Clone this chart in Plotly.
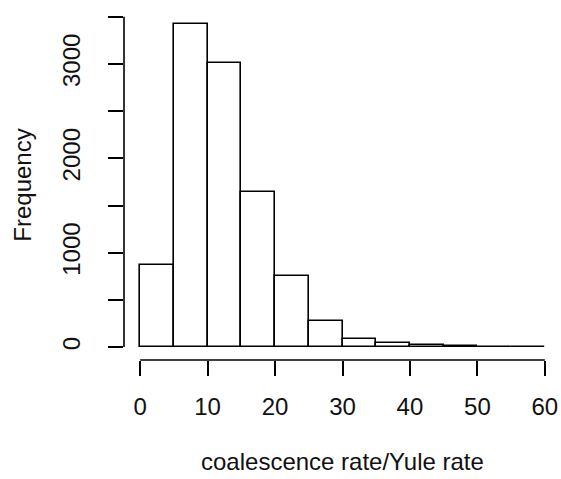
import plotly.graph_objects as go

# histogram of coalescence rate / Yule rate, bins of width 5
bin_edges = [0, 5, 10, 15, 20, 25, 30, 35, 40, 45, 50, 55, 60]
counts = [869, 3424, 3010, 1638, 748, 279, 90, 40, 17, 8, 4, 2]

x_ticks = [0, 10, 20, 30, 40, 50, 60]
y_ticks = [0, 500, 1000, 1500, 2000, 2500, 3000, 3500]
y_labels = ["0", "", "1000", "", "2000", "", "3000", ""]

centers = [(a + b) / 2 for a, b in zip(bin_edges[:-1], bin_edges[1:])]
widths = [b - a for a, b in zip(bin_edges[:-1], bin_edges[1:])]

FONT = "Liberation Sans, Arial, sans-serif"
FS = 24

fig = go.Figure(go.Bar(
    x=centers, y=counts, width=widths,
    marker=dict(color="white", line=dict(color="black", width=1.6)),
    hoverinfo="skip",
))

# R-style extended ranges (4% padding)
xr = bin_edges[-1] - bin_edges[0]
ymax = max(counts)
fig.update_xaxes(range=[bin_edges[0] - 0.04 * xr, bin_edges[-1] + 0.04 * xr],
                 tickvals=x_ticks, ticks="outside", ticklen=15, tickwidth=1.6,
                 tickcolor="black", showline=False, showgrid=False, zeroline=False,
                 automargin=False, ticklabelstandoff=10,
                 tickfont=dict(family=FONT, size=FS, color="#111"))
fig.update_yaxes(range=[-0.04 * ymax, 1.04 * ymax],
                 tickvals=y_ticks, ticktext=y_labels, tickangle=-90,
                 ticks="outside", ticklen=15, tickwidth=1.6, tickcolor="black",
                 showline=False, showgrid=False, zeroline=False,
                 automargin=False, ticklabelstandoff=18,
                 tickfont=dict(family=FONT, size=FS, color="#111"))

# detached axis lines spanning only the tick range
fig.add_shape(type="line", xref="x", yref="paper", x0=x_ticks[0], x1=x_ticks[-1],
              y0=0, y1=0, line=dict(color="black", width=1.6))
fig.add_shape(type="line", xref="paper", yref="y", x0=0, x1=0,
              y0=y_ticks[0], y1=y_ticks[-1], line=dict(color="black", width=1.6))

fig.add_annotation(text="coalescence rate/Yule rate", xref="paper", yref="paper",
                   x=0.5, y=-0.292, showarrow=False, yanchor="middle",
                   font=dict(family=FONT, size=FS, color="#111"))
fig.add_annotation(text="Frequency", xref="paper", yref="paper",
                   x=-0.233, y=0.5, showarrow=False, textangle=-90, xanchor="center",
                   font=dict(family=FONT, size=FS, color="#111"))

fig.update_layout(
    width=561, height=479,
    paper_bgcolor="white", plot_bgcolor="white",
    margin=dict(l=124, r=0, t=11, b=119),
    bargap=0, showlegend=False,
)

fig.write_html("out.html", config={"displayModeBar": False},
               post_script="document.body.style.margin='0';")
